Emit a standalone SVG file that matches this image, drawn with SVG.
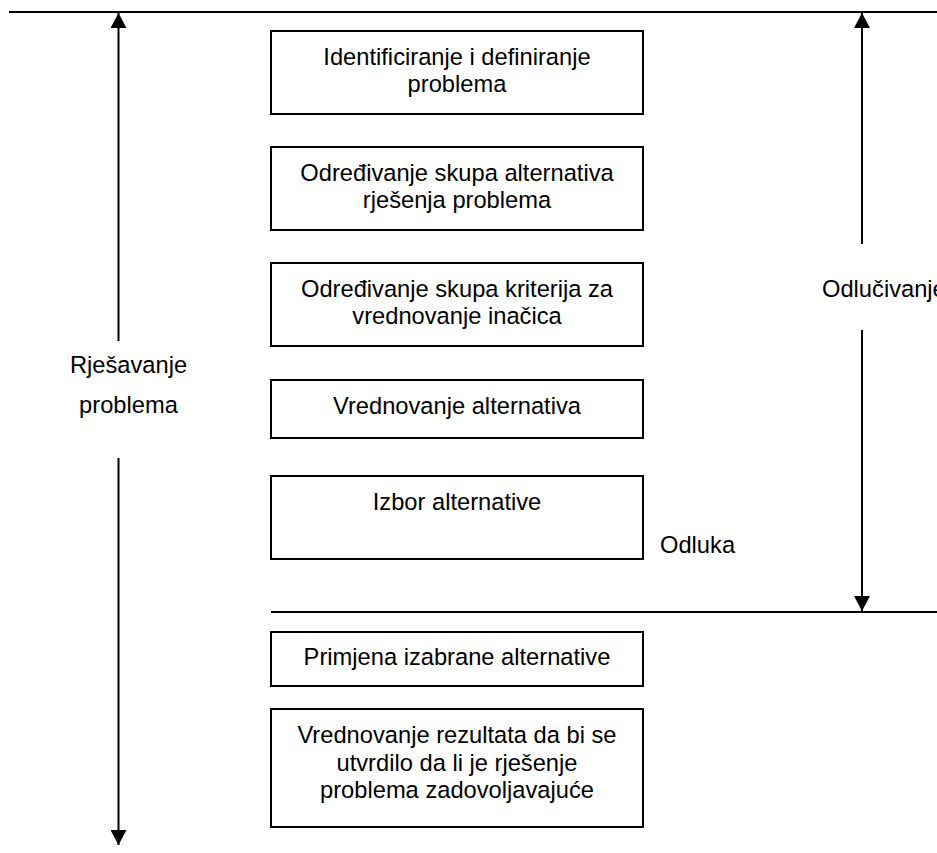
<svg xmlns="http://www.w3.org/2000/svg" width="937" height="853" viewBox="0 0 937 853">
<style>
.box{fill:#fff;stroke:#000;stroke-width:2}
.t{font-family:"Liberation Sans",Arial,sans-serif;font-size:23.7px;fill:#000;text-anchor:middle}
.ts{font-family:"Liberation Sans",Arial,sans-serif;font-size:23.7px;fill:#000}
.ln{stroke:#000;stroke-width:2;fill:none}
</style>
<defs>
<marker id="ah" viewBox="0 0 15 16" refX="15" refY="8" markerWidth="15" markerHeight="16" markerUnits="userSpaceOnUse" orient="auto">
<path d="M0,0 L15,8 L0,16 Z" fill="#000"/>
</marker>
</defs>
<g id="connectors">
<line class="ln" x1="9" y1="12" x2="937" y2="12"/>
<line class="ln" x1="271" y1="612" x2="937" y2="612"/>
<line class="ln" x1="118.5" y1="341" x2="118.5" y2="13" marker-end="url(#ah)"/>
<line class="ln" x1="118.5" y1="458" x2="118.5" y2="845" marker-end="url(#ah)"/>
<line class="ln" x1="862" y1="244" x2="862" y2="13" marker-end="url(#ah)"/>
<line class="ln" x1="862" y1="330" x2="862" y2="611" marker-end="url(#ah)"/>
</g>
<g id="n1"><rect class="box" x="271" y="31" width="372" height="83"/>
<text class="t" x="457" y="65">Identificiranje i definiranje</text>
<text class="t" x="457" y="92">problema</text></g>
<g id="n2"><rect class="box" x="271" y="147" width="372" height="83"/>
<text class="t" x="457" y="181">Određivanje skupa alternativa</text>
<text class="t" x="457" y="208">rješenja problema</text></g>
<g id="n3"><rect class="box" x="271" y="263" width="372" height="83"/>
<text class="t" x="457" y="297">Određivanje skupa kriterija za</text>
<text class="t" x="457" y="324">vrednovanje inačica</text></g>
<g id="n4"><rect class="box" x="271" y="380" width="372" height="58"/>
<text class="t" x="457" y="414">Vrednovanje alternativa</text></g>
<g id="n5"><rect class="box" x="271" y="476" width="372" height="83"/>
<text class="t" x="457" y="510">Izbor alternative</text></g>
<g id="n6"><rect class="box" x="271" y="632" width="372" height="54"/>
<text class="t" x="457" y="665">Primjena izabrane alternative</text></g>
<g id="n7"><rect class="box" x="271" y="709" width="372" height="118"/>
<text class="t" x="457" y="743">Vrednovanje rezultata da bi se</text>
<text class="t" x="457" y="770.5">utvrdilo da li je rješenje</text>
<text class="t" x="457" y="798">problema zadovoljavajuće</text></g>
<g id="labels">
<text class="t" x="128.5" y="373">Rješavanje</text>
<text class="t" x="128.5" y="413">problema</text>
<text class="ts" x="822" y="297">Odlučivanje</text>
<text class="ts" x="660" y="553">Odluka</text>
</g>
</svg>
